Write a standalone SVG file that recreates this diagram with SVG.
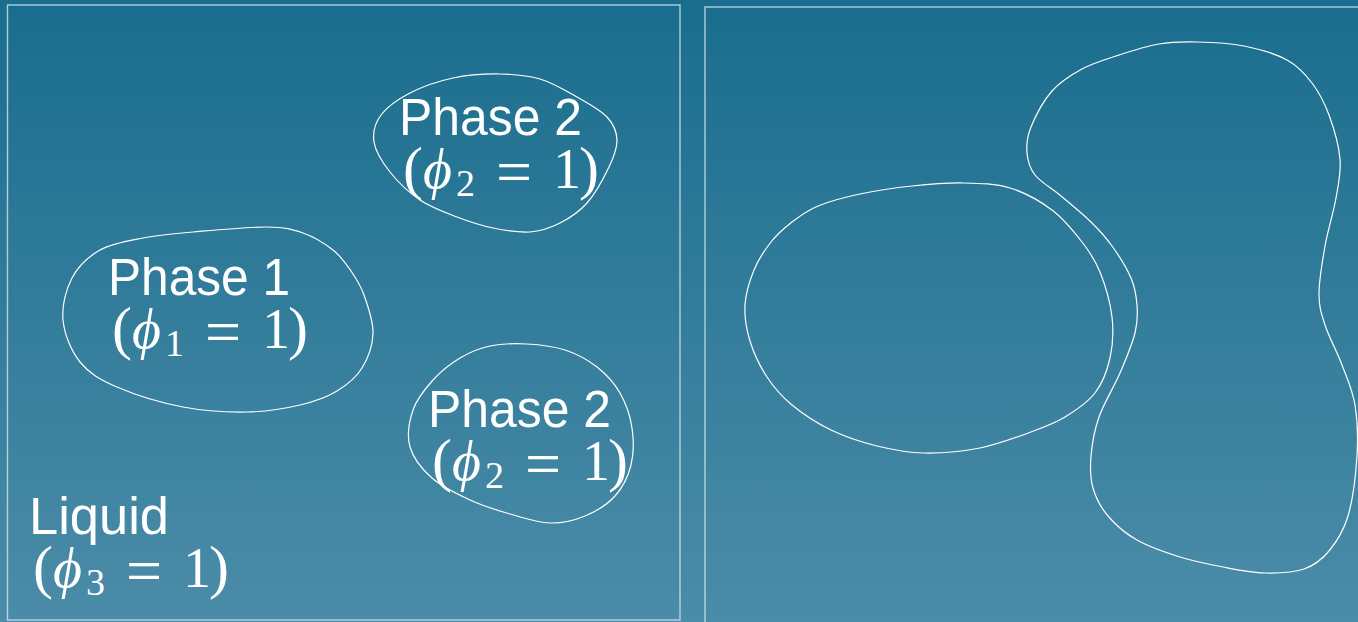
<svg xmlns="http://www.w3.org/2000/svg" width="1358" height="622" viewBox="0 0 1358 622">
<defs>
<linearGradient id="bg" x1="0" y1="0" x2="0" y2="1">
<stop offset="0" stop-color="#1a6d8e"/>
<stop offset="1" stop-color="#4b8ca8"/>
</linearGradient>
</defs>
<style>
.frame{fill:none;stroke:#d4e6ee;stroke-opacity:0.8;stroke-width:1.4}
.blob{fill:none;stroke:#ffffff;stroke-width:1.2}
.lbl{font-family:"Liberation Sans","Noto Sans",sans-serif;font-size:51px;fill:#ffffff}
.math{font-family:"Liberation Serif","DejaVu Serif",serif;font-size:56px;fill:#ffffff}
.par{font-size:60px}
.it{font-style:italic}
.sub{font-size:38px}
.eq{font-size:64px}
</style>
<rect x="0" y="0" width="1358" height="622" fill="url(#bg)"/>
<g id="panel-left">
<rect class="frame" x="7.5" y="5" width="672.5" height="615"/>
</g>
<g id="panel-right">
<rect class="frame" x="705" y="7" width="680" height="640"/>
</g>
<g id="phase2-top">
<path class="blob" d="M500,74 C514.5,74.2 527.2,75.2 540,79 S565.8,90.7 577,97 S600.3,109.8 607,117 S616.7,131.7 617,140 S614,156.5 609,167 S595.2,193.7 587,203 S569.5,218.2 560,223 S541.2,231.2 530,232 S505.2,230.5 493,228 S469.2,221.7 457,217 S431.2,207.5 420,200 S397.7,181.7 390,172 S375.5,151.5 374,142 S375,123.2 381,115 S398,99.2 410,93 S438,81.2 453,78 S485.5,73.8 500,74 Z"/>
<text class="lbl" x="399" y="135" textLength="183" lengthAdjust="spacingAndGlyphs">Phase 2</text>
<text class="math" y="188"><tspan class="par" x="403">(</tspan><tspan class="it" x="423">ϕ</tspan><tspan class="sub" x="456" y="196">2</tspan><tspan class="eq" x="496" y="193">=</tspan><tspan x="553" y="188">1</tspan><tspan class="par" x="579">)</tspan></text>
</g>
<g id="phase1">
<path class="blob" d="M267,227 C285.3,227.2 292,229.2 303,233 S325,243.7 333,250 S345.8,263.5 351,271 S360.3,284.7 364,295 S373.3,320.8 373,333 S368,358.3 362,368 S347.3,384.8 337,391 S315,401.5 300,405 S266.5,411.7 247,412 S204.7,411.2 183,407 S134.2,394.5 117,387 S89,373.2 80,362 S64.3,334 63,320 S65.8,289.7 72,278 S88.2,256.7 100,250 S127.5,241 143,238 S172.3,233.8 193,232 S248.7,226.8 267,227 Z"/>
<text class="lbl" x="108" y="295" textLength="182" lengthAdjust="spacingAndGlyphs">Phase 1</text>
<text class="math" y="348"><tspan class="par" x="112">(</tspan><tspan class="it" x="132">ϕ</tspan><tspan class="sub" x="165" y="356">1</tspan><tspan class="eq" x="205" y="353">=</tspan><tspan x="262" y="348">1</tspan><tspan class="par" x="288">)</tspan></text>
</g>
<g id="phase2-bottom">
<path class="blob" d="M527,344 C539.5,344.7 553.3,346.2 565,350 S587.8,359.8 597,367 S614.2,382.8 620,393 S630.2,416 632,428 S633.8,453.7 631,465 S622.7,487.5 615,496 S595.8,511.5 585,516 S562.5,523.3 550,523 S523.3,517.8 510,514 S483,506 470,500 S442,486.8 432,478 S413.2,458.3 410,447 S409.2,421.2 413,410 S425.2,388.7 433,380 S450.5,363.7 460,358 S478.8,348.3 490,346 S514.5,343.3 527,344 Z"/>
<text class="lbl" x="428" y="427" textLength="183" lengthAdjust="spacingAndGlyphs">Phase 2</text>
<text class="math" y="480"><tspan class="par" x="432">(</tspan><tspan class="it" x="452">ϕ</tspan><tspan class="sub" x="485" y="488">2</tspan><tspan class="eq" x="525" y="485">=</tspan><tspan x="582" y="480">1</tspan><tspan class="par" x="608">)</tspan></text>
</g>
<g id="liquid">
<text class="lbl" x="29" y="534" textLength="140" lengthAdjust="spacingAndGlyphs">Liquid</text>
<text class="math" y="587"><tspan class="par" x="33">(</tspan><tspan class="it" x="53">ϕ</tspan><tspan class="sub" x="86" y="595">3</tspan><tspan class="eq" x="126" y="592">=</tspan><tspan x="183" y="587">1</tspan><tspan class="par" x="209">)</tspan></text>
</g>
<g id="region-a">
<path class="blob" d="M818,206 C829.3,201.3 844.3,197.3 860,194 S894.8,187.8 912,186 S946.7,182.7 963,183 S995.2,183.5 1010,188 S1040,201 1052,210 S1074,231.7 1082,242 S1095,259.5 1100,272 S1110.3,302.7 1112,317 S1112.8,345.3 1110,358 S1102.5,383.2 1095,393 S1075.7,410.5 1065,417 S1045.2,426.8 1031,432 S997.8,444.5 980,448 S941.2,453.3 924,453 S892.5,449.8 877,446 S845.2,436.8 831,430 S802.7,413.8 792,405 S774,387.7 767,377 S753.7,353 750,341 S744.3,316.8 745,305 S749.7,280.5 754,270 S764.7,250 771,242 S784.2,228 792,222 S806.7,210.7 818,206 Z"/>
</g>
<g id="region-b">
<path class="blob" d="M1197,42 C1211.2,42.3 1229,43 1244,46 S1275.7,53.8 1287,60 S1305,73.8 1312,83 S1324.3,102.3 1329,115 S1338.8,145.2 1340,159 S1338.5,183.5 1336,198 S1327.8,230 1325,246 S1319,280.8 1319,294 S1321.2,313.2 1325,325 S1337,351.7 1342,365 S1352.5,389.8 1355,405 S1358.2,437.5 1357,456 S1352.7,500.2 1348,516 S1336.3,542.2 1329,551 S1314.7,565.3 1304,569 S1278.5,573.3 1265,573 S1237.2,569.7 1223,567 S1194.3,561.5 1180,557 S1149,546.8 1137,540 S1115.3,524.7 1108,516 S1095.8,498 1093,488 S1090,467.8 1091,456 S1094.2,430.8 1099,417 S1114,387 1120,373 S1132.2,344.3 1135,333 S1137.7,314.2 1137,305 S1135.2,287.8 1131,278 S1118.7,255.3 1112,246 S1099.5,230.3 1091,222 S1070.3,203.8 1061,196 S1040.7,182.2 1035,175 S1027.7,161 1027,153 S1026.8,137.3 1031,127 S1043.5,100.7 1052,91 S1071.3,74.8 1082,69 S1103.2,60.2 1116,56 S1145.5,46.3 1159,44 S1182.8,41.7 1197,42 Z"/>
</g>
</svg>
